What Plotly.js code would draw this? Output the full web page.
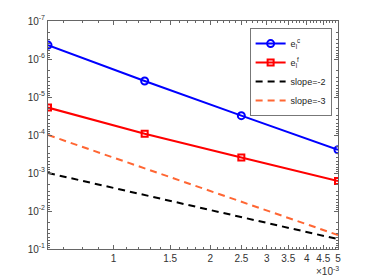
<!DOCTYPE html>
<html>
<head>
<meta charset="utf-8">
<script src="https://cdn.plot.ly/plotly-3.0.1.min.js"></script>
<style>html,body{margin:0;padding:0;background:#fff;}#chart{width:374px;height:280px;}</style>
</head>
<body>
<div id="chart"></div>
<script>
// Data
const hValues = [0.000625, 0.00125, 0.0025, 0.005];
const errCoarse = [4.3e-7, 3.8e-6, 3.1e-5, 2.45e-4];
const errFine = [1.9e-5, 9.3e-5, 3.9e-4, 1.63e-3];
const slopeX = [0.000625, 0.005];
const slope2 = [1.0e-3, 5.5e-2];
const slope3 = [1.0e-4, 4.3e-2];
const xTickVals = [0.001, 0.0015, 0.002, 0.0025, 0.003, 0.0035, 0.004, 0.0045, 0.005];
const xTickText = ['1', '1.5', '2', '2.5', '3', '3.5', '4', '4.5', '5'];
const yTickVals = [1e-7, 1e-6, 1e-5, 1e-4, 1e-3, 1e-2, 1e-1];
const yTickText = ['10<sup>-7</sup>', '10<sup>-6</sup>', '10<sup>-5</sup>', '10<sup>-4</sup>', '10<sup>-3</sup>', '10<sup>-2</sup>', '10<sup>-1</sup>'];
const seriesNames = ['e<sub>l</sub><sup>c</sup>', 'e<sub>l</sub><sup>f</sup>', 'slope=-2', 'slope=-3'];

const xMinor = [];
for (let i = 6; i <= 50; i++) { xMinor.push(i * 1e-4); }
const yMinor = [];
for (let k = -7; k <= -2; k++) { for (let m = 2; m <= 9; m++) { yMinor.push(m * Math.pow(10, k)); } }

const traces = [
  {x: hValues, y: errCoarse, name: seriesNames[0], mode: 'lines+markers',
   line: {color: '#0000ff', width: 2}, marker: {symbol: 'circle-open', size: 7, color: '#0000ff', line: {width: 2}}},
  {x: hValues, y: errFine, name: seriesNames[1], mode: 'lines+markers',
   line: {color: '#ff0000', width: 2}, marker: {symbol: 'square-open', size: 6, color: '#ff0000', line: {width: 2}}},
  {x: slopeX, y: slope2, name: seriesNames[2], mode: 'lines',
   line: {color: '#000000', width: 2, dash: '7px,5px'}},
  {x: slopeX, y: slope3, name: seriesNames[3], mode: 'lines',
   line: {color: '#ff6633', width: 2, dash: '7px,5px'}}
];

const axisCommon = {
  showline: true, linecolor: '#666', linewidth: 1, mirror: 'allticks',
  ticks: 'inside', ticklen: 4, tickcolor: '#666', showgrid: false, zeroline: false,
  tickfont: {family: 'Liberation Sans, Arial, sans-serif', size: 10, color: '#333'}
};

const layout = {
  width: 374, height: 280,
  margin: {l: 48, r: 36, t: 21, b: 31},
  paper_bgcolor: '#fff', plot_bgcolor: '#fff',
  showlegend: true,
  legend: {x: 0.978, y: 0.969, xanchor: 'right', yanchor: 'top',
    bgcolor: '#fff', bordercolor: '#777', borderwidth: 1,
    font: {family: 'Liberation Sans, Arial, sans-serif', size: 9, color: '#222'},
    tracegroupgap: 0, itemwidth: 30},
  xaxis: Object.assign({}, axisCommon, {
    type: 'log', range: [Math.log10(0.000625), Math.log10(0.005)],
    tickmode: 'array', tickvals: xTickVals, ticktext: xTickText,
    minor: {tickmode: 'array', tickvals: xMinor, ticks: 'inside', ticklen: 2, tickcolor: '#666'}
  }),
  yaxis: Object.assign({}, axisCommon, {
    type: 'log', range: [-1, -7],
    tickmode: 'array', tickvals: yTickVals, ticktext: yTickText,
    minor: {tickmode: 'array', tickvals: yMinor, ticks: 'inside', ticklen: 2, tickcolor: '#666'}
  }),
  annotations: [
    {xref: 'paper', yref: 'paper', x: 1.01, y: -0.13, xanchor: 'right', yanchor: 'bottom',
     text: '×10<sup>-3</sup>', showarrow: false,
     font: {family: 'Liberation Sans, Arial, sans-serif', size: 10, color: '#333'}}
  ]
};

Plotly.newPlot('chart', traces, layout, {displayModeBar: false, staticPlot: true});
</script>
</body>
</html>
